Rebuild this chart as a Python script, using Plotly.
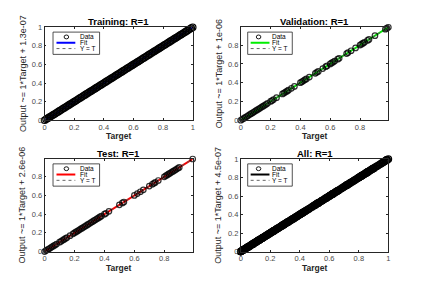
import plotly.graph_objects as go

# ---------------- data ----------------
panel_titles = ["Training: R=1", "Validation: R=1", "Test: R=1", "All: R=1"]
ylabel_texts = ["Output ~= 1*Target + 1.3e-07", "Output ~= 1*Target + 1e-06",
                "Output ~= 1*Target + 2.6e-06", "Output ~= 1*Target + 4.5e-07"]
fit_slopes = [1.0, 1.0, 1.0, 1.0]
fit_intercepts = [1.3e-07, 1e-06, 2.6e-06, 4.5e-07]
fit_colors = ["#0000ff", "#00ee00", "#ff0000", "#000000"]
tick_values = [0, 0.2, 0.4, 0.6, 0.8, 1]

train_targets = [0.00, 0.01, 0.02, 0.03, 0.04, 0.05, 0.06, 0.07, 0.08, 0.09,
                 0.10, 0.11, 0.12, 0.13, 0.14, 0.15, 0.16, 0.17, 0.18, 0.19,
                 0.20, 0.21, 0.22, 0.23, 0.24, 0.25, 0.26, 0.27, 0.28, 0.29,
                 0.30, 0.31, 0.32, 0.33, 0.34, 0.35, 0.36, 0.37, 0.38, 0.39,
                 0.40, 0.41, 0.42, 0.43, 0.44, 0.45, 0.46, 0.47, 0.48, 0.49,
                 0.50, 0.51, 0.52, 0.53, 0.54, 0.55, 0.56, 0.57, 0.58, 0.59,
                 0.60, 0.61, 0.62, 0.63, 0.64, 0.65, 0.66, 0.67, 0.68, 0.69,
                 0.70, 0.71, 0.72, 0.73, 0.74, 0.75, 0.76, 0.77, 0.78, 0.79,
                 0.80, 0.81, 0.82, 0.83, 0.84, 0.85, 0.86, 0.87, 0.88, 0.89,
                 0.90, 0.91, 0.92, 0.93, 0.94, 0.95, 0.96, 0.97, 0.98, 0.99, 1.00]
# R = 1: outputs coincide with targets
train_outputs = list(train_targets)

val_targets = [0.00, 0.01, 0.02, 0.03, 0.04, 0.05, 0.06, 0.07, 0.08, 0.09, 0.10,
               0.11, 0.12, 0.13, 0.14, 0.15, 0.16, 0.17, 0.18, 0.20, 0.21, 0.22,
               0.24, 0.28, 0.29, 0.30, 0.31, 0.32, 0.34, 0.36, 0.40, 0.41, 0.42,
               0.43, 0.44, 0.46, 0.50, 0.51, 0.52, 0.55, 0.57, 0.58, 0.60, 0.61,
               0.62, 0.63, 0.65, 0.66, 0.71, 0.72, 0.74, 0.77, 0.80, 0.81, 0.82,
               0.83, 0.85, 0.86, 0.90, 0.97, 0.98, 0.99]
val_outputs = list(val_targets)

test_targets = [0.00, 0.01, 0.02, 0.03, 0.04, 0.05, 0.06, 0.07, 0.08, 0.10, 0.11,
                0.12, 0.13, 0.14, 0.15, 0.17, 0.19, 0.20, 0.21, 0.22, 0.23, 0.24,
                0.25, 0.26, 0.27, 0.28, 0.29, 0.30, 0.31, 0.32, 0.33, 0.34, 0.35,
                0.36, 0.37, 0.38, 0.40, 0.41, 0.43, 0.50, 0.52, 0.53, 0.60, 0.62,
                0.64, 0.66, 0.70, 0.72, 0.73, 0.74, 0.76, 0.80, 0.81, 0.82, 0.83,
                0.84, 0.85, 0.86, 0.87, 0.88, 0.89, 0.90, 0.99]
test_outputs = list(test_targets)

all_targets = train_targets + val_targets + test_targets
all_outputs = train_outputs + val_outputs + test_outputs

targets_list = [train_targets, val_targets, test_targets, all_targets]
outputs_list = [train_outputs, val_outputs, test_outputs, all_outputs]

# ---------------- layout geometry (pixels) ----------------
W, H = 429, 289
def px(x):
    return x / W
def py(y):
    return 1 - y / H

col_x = [(43, 192.5), (241, 390)]
row_y = [(24, 120), (160, 255.5)]
legend_off = [dict(box=(8.5, 55.5), line=(12, 31), circ=22, text=34),
              dict(box=(7, 52), line=(10, 29), circ=18, text=30)]
marker_sizes = [6.5, 5.5, 5.5, 6.5]
marker_colors = ["#000000", "rgba(0,0,0,0.8)", "rgba(0,0,0,0.8)", "#000000"]

FONT = "Liberation Sans, Arial, Helvetica, sans-serif"
AXC = "#262626"
TICKC = "#4a4a4a"

fig = go.Figure()
shapes = []
annotations = []

for i in range(4):
    r, c = divmod(i, 2)
    sfx = "" if i == 0 else str(i + 1)
    xa, ya = "x" + sfx, "y" + sfx
    t = targets_list[i]
    o = outputs_list[i]
    lo = min(min(t), min(o))
    hi = max(max(t), max(o))
    fx = [lo, hi]
    fy = [fit_slopes[i] * v + fit_intercepts[i] for v in fx]

    fig.add_trace(go.Scatter(x=fx, y=fy, mode="lines", xaxis=xa, yaxis=ya,
                             line=dict(color=fit_colors[i], width=2), showlegend=False))
    fig.add_trace(go.Scatter(x=fx, y=fx, mode="lines", xaxis=xa, yaxis=ya,
                             line=dict(color="#555555", width=1, dash="dot"), showlegend=False))
    fig.add_trace(go.Scatter(x=t, y=o, mode="markers", xaxis=xa, yaxis=ya, cliponaxis=False,
                             marker=dict(symbol="circle-open", size=marker_sizes[i],
                                         color=marker_colors[i], line=dict(width=1.2)),
                             showlegend=False))

    x0, x1 = col_x[c]
    y0, y1 = row_y[r]
    common = dict(range=[lo, hi], tickvals=tick_values, ticks="inside", ticklen=2,
                  tickcolor=AXC, showline=True, linecolor=AXC, linewidth=0.8,
                  mirror="ticks", showgrid=False, zeroline=False,
                  tickfont=dict(family=FONT, size=7.5, color=TICKC))
    fig.update_layout(**{
        "xaxis" + sfx: dict(domain=[px(x0), px(x1)], anchor=ya, **common),
        "yaxis" + sfx: dict(domain=[py(y1), py(y0)], anchor=xa, **common),
    })

    cx = (x0 + x1) / 2
    # title
    annotations.append(dict(text="<b>%s</b>" % panel_titles[i], x=px(cx), y=py(y0 - 6),
                            xref="paper", yref="paper", xanchor="center", yanchor="middle",
                            showarrow=False, font=dict(family=FONT, size=9.5, color="#000")))
    # x label
    annotations.append(dict(text="<b>Target</b>", x=px(cx), y=py(y1 + 16.5),
                            xref="paper", yref="paper", xanchor="center", yanchor="middle",
                            showarrow=False, font=dict(family=FONT, size=8.5, color=AXC)))
    # y label
    annotations.append(dict(text=ylabel_texts[i], x=px(x0 - 22.5), y=py((y0 + y1) / 2),
                            xref="paper", yref="paper", xanchor="center", yanchor="middle",
                            textangle=-90, showarrow=False,
                            font=dict(family="Liberation Sans Narrow, Arial Narrow, " + FONT,
                                      size=9, color=AXC)))

    # legend box
    L = legend_off[c]
    shapes.append(dict(type="rect", xref="paper", yref="paper",
                       x0=px(x0 + L["box"][0]), x1=px(x0 + L["box"][1]),
                       y0=py(y0 + 28), y1=py(y0 + 5),
                       line=dict(color=AXC, width=0.8), fillcolor="white"))
    rows = [y0 + 10, y0 + 16, y0 + 22]
    cc = x0 + L["circ"]
    shapes.append(dict(type="circle", xref="paper", yref="paper",
                       x0=px(cc - 2.3), x1=px(cc + 2.3), y0=py(rows[0] + 2), y1=py(rows[0] - 2),
                       line=dict(color="#000", width=0.9)))
    shapes.append(dict(type="line", xref="paper", yref="paper",
                       x0=px(x0 + L["line"][0]), x1=px(x0 + L["line"][1]),
                       y0=py(rows[1]), y1=py(rows[1]),
                       line=dict(color=fit_colors[i], width=2)))
    shapes.append(dict(type="line", xref="paper", yref="paper",
                       x0=px(x0 + L["line"][0]), x1=px(x0 + L["line"][1]),
                       y0=py(rows[2]), y1=py(rows[2]),
                       line=dict(color="#666666", width=1, dash="dot")))
    for txt, ry in zip(["Data", "Fit", "Y = T"], rows):
        annotations.append(dict(text=txt, x=px(x0 + L["text"]), y=py(ry), xref="paper",
                                yref="paper", xanchor="left", yanchor="middle",
                                showarrow=False, font=dict(family=FONT, size=6.5, color="#000")))

fig.update_layout(width=W, height=H, margin=dict(l=0, r=0, t=0, b=0),
                  paper_bgcolor="white", plot_bgcolor="white",
                  shapes=shapes, annotations=annotations, showlegend=False)

fig.write_html("out.html", config={"displayModeBar": False},
               post_script="document.body.style.margin='0';document.body.style.padding='0';")
